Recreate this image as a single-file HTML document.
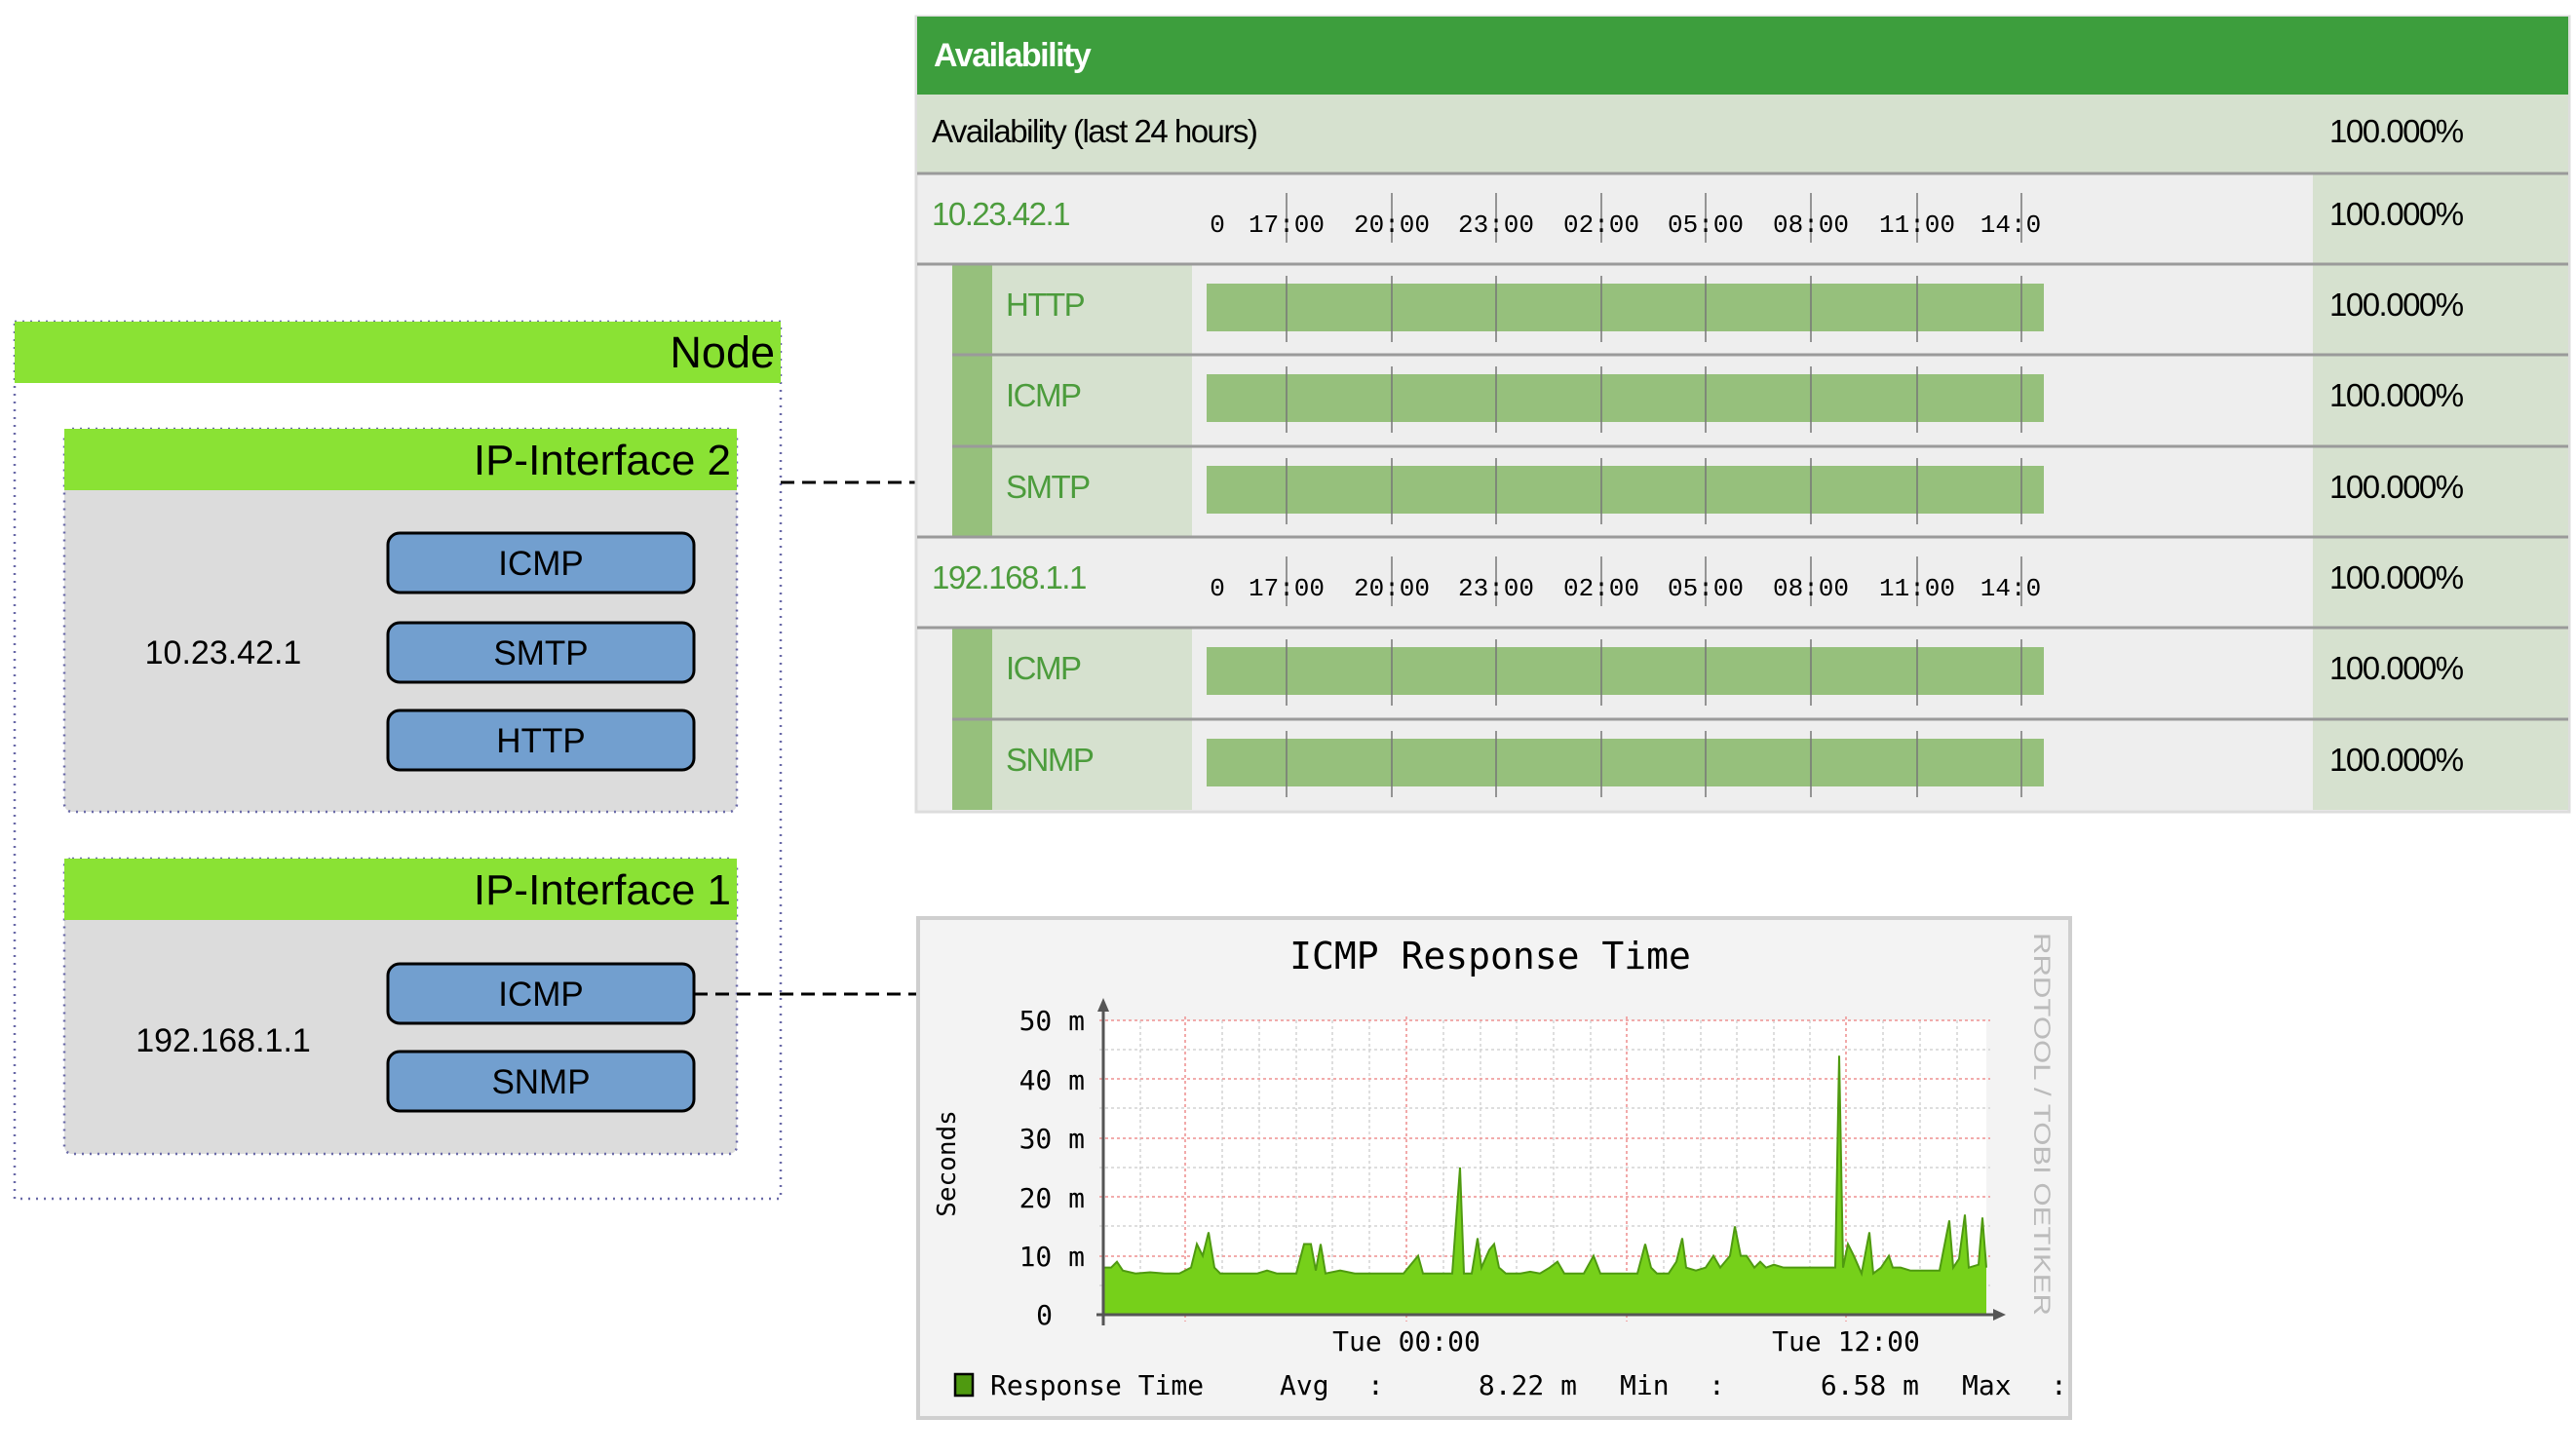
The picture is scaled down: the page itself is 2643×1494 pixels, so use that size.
<!DOCTYPE html>
<html><head><meta charset="utf-8"><style>
html,body{margin:0;padding:0;background:#fff;}
svg{display:block;}
</style></head><body>
<svg width="2643" height="1494" viewBox="0 0 2643 1494" xmlns="http://www.w3.org/2000/svg">
<!-- LEFT DIAGRAM -->
<rect x="15" y="330" width="786" height="900" fill="#fff" stroke="#6a6aa8" stroke-width="2.5" stroke-dasharray="2,6"/>
<rect x="15" y="330" width="786" height="63" fill="#8ae234"/>
<text x="795" y="377" font-family="Liberation Sans, sans-serif" font-size="45" text-anchor="end" fill="#000">Node</text>

<rect x="66" y="440" width="690" height="393" rx="8" fill="#dcdcdc" stroke="#6a6aa8" stroke-width="2.5" stroke-dasharray="2,6"/>
<rect x="66" y="440" width="690" height="63" fill="#8ae234"/>
<text x="750" y="487" font-family="Liberation Sans, sans-serif" font-size="44" text-anchor="end">IP-Interface 2</text>
<text x="229" y="681" font-family="Liberation Sans, sans-serif" font-size="34" text-anchor="middle">10.23.42.1</text>
<g font-family="Liberation Sans, sans-serif" font-size="35" text-anchor="middle">
<rect x="398" y="547" width="314" height="61" rx="12" fill="#729fcf" stroke="#000" stroke-width="3"/><text x="555" y="590">ICMP</text>
<rect x="398" y="639" width="314" height="61" rx="12" fill="#729fcf" stroke="#000" stroke-width="3"/><text x="555" y="682">SMTP</text>
<rect x="398" y="729" width="314" height="61" rx="12" fill="#729fcf" stroke="#000" stroke-width="3"/><text x="555" y="772">HTTP</text>
</g>

<rect x="66" y="881" width="690" height="303" rx="8" fill="#dcdcdc" stroke="#6a6aa8" stroke-width="2.5" stroke-dasharray="2,6"/>
<rect x="66" y="881" width="690" height="63" fill="#8ae234"/>
<text x="750" y="928" font-family="Liberation Sans, sans-serif" font-size="44" text-anchor="end">IP-Interface 1</text>
<text x="229" y="1079" font-family="Liberation Sans, sans-serif" font-size="34" text-anchor="middle">192.168.1.1</text>
<g font-family="Liberation Sans, sans-serif" font-size="35" text-anchor="middle">
<rect x="398" y="989" width="314" height="61" rx="12" fill="#729fcf" stroke="#000" stroke-width="3"/><text x="555" y="1032">ICMP</text>
<rect x="398" y="1079" width="314" height="61" rx="12" fill="#729fcf" stroke="#000" stroke-width="3"/><text x="555" y="1122">SNMP</text>
</g>
<line x1="801" y1="495" x2="940" y2="495" stroke="#000" stroke-width="3" stroke-dasharray="14,8"/>
<line x1="712" y1="1020" x2="940" y2="1020" stroke="#000" stroke-width="3" stroke-dasharray="14,8"/>

<!-- AVAILABILITY TABLE -->
<rect x="940" y="17" width="1696" height="816" fill="#eeeeee" stroke="#dddddd" stroke-width="3"/>
<rect x="941" y="17" width="1694" height="80" fill="#3d9e3d"/>
<text x="958" y="68" font-family="Liberation Sans, sans-serif" font-size="34" font-weight="bold" fill="#fff" letter-spacing="-1.5">Availability</text>
<rect x="941" y="97" width="1694" height="81" fill="#d6e1cf"/>
<text x="956" y="146" font-family="Liberation Sans, sans-serif" font-size="33" fill="#000" letter-spacing="-1.5">Availability (last 24 hours)</text>
<text x="2390" y="146" font-family="Liberation Sans, sans-serif" font-size="33" fill="#000" letter-spacing="-1.5">100.000%</text>
<!-- pct column -->
<rect x="2373" y="178" width="262" height="653" fill="#d6e1cf"/>
<!-- service strips -->
<g fill="#96c07c"><rect x="977" y="271" width="41" height="280"/><rect x="977" y="644" width="41" height="187"/></g>
<g fill="#d6e1cf"><rect x="1018" y="271" width="205" height="280"/><rect x="1018" y="644" width="205" height="187"/></g>
<!-- separators -->
<g stroke="#9a9a9a" stroke-width="3">
<line x1="941" y1="178" x2="2635" y2="178"/>
<line x1="941" y1="271" x2="2635" y2="271"/>
<line x1="977" y1="364" x2="2635" y2="364"/>
<line x1="977" y1="458" x2="2635" y2="458"/>
<line x1="941" y1="551" x2="2635" y2="551"/>
<line x1="941" y1="644" x2="2635" y2="644"/>
<line x1="977" y1="738" x2="2635" y2="738"/>
</g>
<!-- row labels -->
<g font-family="Liberation Sans, sans-serif" font-size="33" letter-spacing="-1.5" fill="#4c9c3c">
<text x="956" y="231">10.23.42.1</text>
<text x="956" y="604">192.168.1.1</text>
<text x="1032" y="324">HTTP</text>
<text x="1032" y="417">ICMP</text>
<text x="1032" y="511">SMTP</text>
<text x="1032" y="697">ICMP</text>
<text x="1032" y="791">SNMP</text>
</g>
<g font-family="Liberation Sans, sans-serif" font-size="33" letter-spacing="-1.5" fill="#000">
<text x="2390" y="231">100.000%</text>
<text x="2390" y="324">100.000%</text>
<text x="2390" y="417">100.000%</text>
<text x="2390" y="511">100.000%</text>
<text x="2390" y="604">100.000%</text>
<text x="2390" y="697">100.000%</text>
<text x="2390" y="791">100.000%</text>
</g>
<!-- tick header rows -->
<g id="tk">
<g stroke="#777" stroke-width="1.5">
<line x1="1320" y1="198" x2="1320" y2="249"/><line x1="1428" y1="198" x2="1428" y2="249"/><line x1="1535" y1="198" x2="1535" y2="249"/><line x1="1643" y1="198" x2="1643" y2="249"/><line x1="1750" y1="198" x2="1750" y2="249"/><line x1="1858" y1="198" x2="1858" y2="249"/><line x1="1967" y1="198" x2="1967" y2="249"/><line x1="2074" y1="198" x2="2074" y2="249"/>
</g>
<g font-family="Liberation Mono, monospace" font-size="26" text-anchor="middle" fill="#000">
<text x="1249" y="238">0</text><text x="1320" y="238">17:00</text><text x="1428" y="238">20:00</text><text x="1535" y="238">23:00</text><text x="1643" y="238">02:00</text><text x="1750" y="238">05:00</text><text x="1858" y="238">08:00</text><text x="1967" y="238">11:00</text><text x="2063" y="238">14:0</text>
</g>
</g>
<use href="#tk" transform="translate(0,373)"/>
<!-- bars -->
<g id="bar">
<rect x="1238" y="291" width="859" height="49" fill="#96c07c"/>
<g stroke="#777" stroke-width="1.5">
<line x1="1320" y1="283" x2="1320" y2="351"/><line x1="1428" y1="283" x2="1428" y2="351"/><line x1="1535" y1="283" x2="1535" y2="351"/><line x1="1643" y1="283" x2="1643" y2="351"/><line x1="1750" y1="283" x2="1750" y2="351"/><line x1="1858" y1="283" x2="1858" y2="351"/><line x1="1967" y1="283" x2="1967" y2="351"/><line x1="2074" y1="283" x2="2074" y2="351"/>
</g>
</g>
<use href="#bar" transform="translate(0,93)"/>
<use href="#bar" transform="translate(0,187)"/>
<use href="#bar" transform="translate(0,373)"/>
<use href="#bar" transform="translate(0,467)"/>

<!-- RRD GRAPH -->
<rect x="942" y="942" width="1182" height="513" fill="#f3f3f3" stroke="#cfcfcf" stroke-width="4"/>
<rect x="1132" y="1047" width="906" height="302" fill="#fff"/>
<!-- minor vertical grid -->
<g stroke="#d4d4d4" stroke-width="1.5" stroke-dasharray="3,3">
<line x1="1170" y1="1047" x2="1170" y2="1349"/><line x1="1254" y1="1047" x2="1254" y2="1349"/><line x1="1292" y1="1047" x2="1292" y2="1349"/><line x1="1330" y1="1047" x2="1330" y2="1349"/><line x1="1367" y1="1047" x2="1367" y2="1349"/><line x1="1405" y1="1047" x2="1405" y2="1349"/>
<line x1="1481" y1="1047" x2="1481" y2="1349"/><line x1="1519" y1="1047" x2="1519" y2="1349"/><line x1="1556" y1="1047" x2="1556" y2="1349"/><line x1="1594" y1="1047" x2="1594" y2="1349"/><line x1="1632" y1="1047" x2="1632" y2="1349"/>
<line x1="1707" y1="1047" x2="1707" y2="1349"/><line x1="1745" y1="1047" x2="1745" y2="1349"/><line x1="1782" y1="1047" x2="1782" y2="1349"/><line x1="1820" y1="1047" x2="1820" y2="1349"/><line x1="1857" y1="1047" x2="1857" y2="1349"/>
<line x1="1932" y1="1047" x2="1932" y2="1349"/><line x1="1970" y1="1047" x2="1970" y2="1349"/><line x1="2008" y1="1047" x2="2008" y2="1349"/>
<line x1="1128" y1="1077" x2="2042" y2="1077"/><line x1="1128" y1="1137" x2="2042" y2="1137"/><line x1="1128" y1="1198" x2="2042" y2="1198"/><line x1="1128" y1="1258" x2="2042" y2="1258"/><line x1="1128" y1="1319" x2="2042" y2="1319"/>
</g>
<g stroke="#f0a0a0" stroke-width="1.8" stroke-dasharray="3,3">
<line x1="1216" y1="1043" x2="1216" y2="1356"/><line x1="1443" y1="1043" x2="1443" y2="1356"/><line x1="1669" y1="1043" x2="1669" y2="1356"/><line x1="1894" y1="1043" x2="1894" y2="1356"/>
<line x1="1128" y1="1047" x2="2042" y2="1047"/><line x1="1128" y1="1107" x2="2042" y2="1107"/><line x1="1128" y1="1168" x2="2042" y2="1168"/><line x1="1128" y1="1228" x2="2042" y2="1228"/><line x1="1128" y1="1289" x2="2042" y2="1289"/>
</g>
<!-- series -->
<g transform="translate(0,1349) scale(1,-6.04)">
<polygon fill="#76d01a" points="1132,0 1132,8 1140,8 1146,9 1152,7.5 1165,7 1180,7.2 1195,7 1210,7 1222,8 1228,12 1234,10 1240,14 1246,8 1252,7 1270,7 1290,7 1300,7.5 1310,7 1330,7 1338,12 1345,12 1350,7.5 1355,12 1360,7 1375,7.5 1390,7 1420,7 1440,7 1450,9 1455,10 1460,7 1470,7 1480,7 1490,7 1498,25 1502,7 1510,7 1516,13 1520,8 1528,11 1533,12 1538,8 1545,7 1560,7 1570,7.3 1580,7 1590,8 1598,9 1605,7 1615,7 1625,7 1635,10 1642,7 1660,7 1680,7 1688,12 1694,8 1700,7 1712,7 1720,9 1726,13 1730,8 1740,7.5 1750,8 1758,10 1765,8 1775,10 1780,15 1786,10 1792,10 1800,8 1806,9 1812,8 1820,8.5 1830,8 1840,8 1850,8 1860,8 1875,8 1883,8 1887,44 1891,8 1896,12 1902,10 1910,7 1918,14 1922,7 1930,8 1938,10 1942,8 1950,8 1960,7.5 1975,7.5 1990,7.5 2000,16 2004,8 2010,9.5 2016,17 2020,8 2030,8.5 2034,16.5 2038,8 2038,0"/>
<polyline fill="none" stroke="#4f9a10" stroke-width="2" vector-effect="non-scaling-stroke" points="1132,8 1140,8 1146,9 1152,7.5 1165,7 1180,7.2 1195,7 1210,7 1222,8 1228,12 1234,10 1240,14 1246,8 1252,7 1270,7 1290,7 1300,7.5 1310,7 1330,7 1338,12 1345,12 1350,7.5 1355,12 1360,7 1375,7.5 1390,7 1420,7 1440,7 1450,9 1455,10 1460,7 1470,7 1480,7 1490,7 1498,25 1502,7 1510,7 1516,13 1520,8 1528,11 1533,12 1538,8 1545,7 1560,7 1570,7.3 1580,7 1590,8 1598,9 1605,7 1615,7 1625,7 1635,10 1642,7 1660,7 1680,7 1688,12 1694,8 1700,7 1712,7 1720,9 1726,13 1730,8 1740,7.5 1750,8 1758,10 1765,8 1775,10 1780,15 1786,10 1792,10 1800,8 1806,9 1812,8 1820,8.5 1830,8 1840,8 1850,8 1860,8 1875,8 1883,8 1887,44 1891,8 1896,12 1902,10 1910,7 1918,14 1922,7 1930,8 1938,10 1942,8 1950,8 1960,7.5 1975,7.5 1990,7.5 2000,16 2004,8 2010,9.5 2016,17 2020,8 2030,8.5 2034,16.5 2038,8"/>
</g>
<!-- axes -->
<g stroke="#555" stroke-width="3">
<line x1="1132" y1="1030" x2="1132" y2="1360"/>
<line x1="1125" y1="1349" x2="2050" y2="1349"/>
</g>
<polygon points="1132,1024 1126,1038 1138,1038" fill="#555"/>
<polygon points="2058,1349 2045,1343 2045,1355" fill="#555"/>
<!-- labels -->
<g font-family="DejaVu Sans Mono, Liberation Mono, monospace" font-size="28" fill="#000">
<text x="1529" y="994" font-size="38" text-anchor="middle">ICMP Response Time</text>
<g text-anchor="end"><text x="1113" y="1057">50 m</text><text x="1113" y="1118">40 m</text><text x="1113" y="1178">30 m</text><text x="1113" y="1239">20 m</text><text x="1113" y="1299">10 m</text><text x="1080" y="1359">0</text></g>
<text x="1443" y="1386" text-anchor="middle">Tue 00:00</text>
<text x="1894" y="1386" text-anchor="middle">Tue 12:00</text>
<text x="980" y="1194" text-anchor="middle" transform="rotate(-90 980 1194)" font-size="26">Seconds</text>
<text x="1016" y="1431">Response Time</text>
<text x="1313" y="1431">Avg</text><text x="1403" y="1431">:</text>
<text x="1618" y="1431" text-anchor="end">8.22 m</text>
<text x="1662" y="1431">Min</text><text x="1753" y="1431">:</text>
<text x="1969" y="1431" text-anchor="end">6.58 m</text>
<text x="2013" y="1431">Max</text><text x="2104" y="1431">:</text>
</g>
<rect x="980" y="1410" width="18" height="22" fill="#4f9a10" stroke="#000" stroke-width="2.5"/>
<text x="2087" y="957" font-family="Liberation Sans, sans-serif" font-size="24" fill="#bbb" transform="rotate(90 2087 957)" textLength="393" lengthAdjust="spacingAndGlyphs">RRDTOOL / TOBI OETIKER</text>
</svg>
</body></html>
